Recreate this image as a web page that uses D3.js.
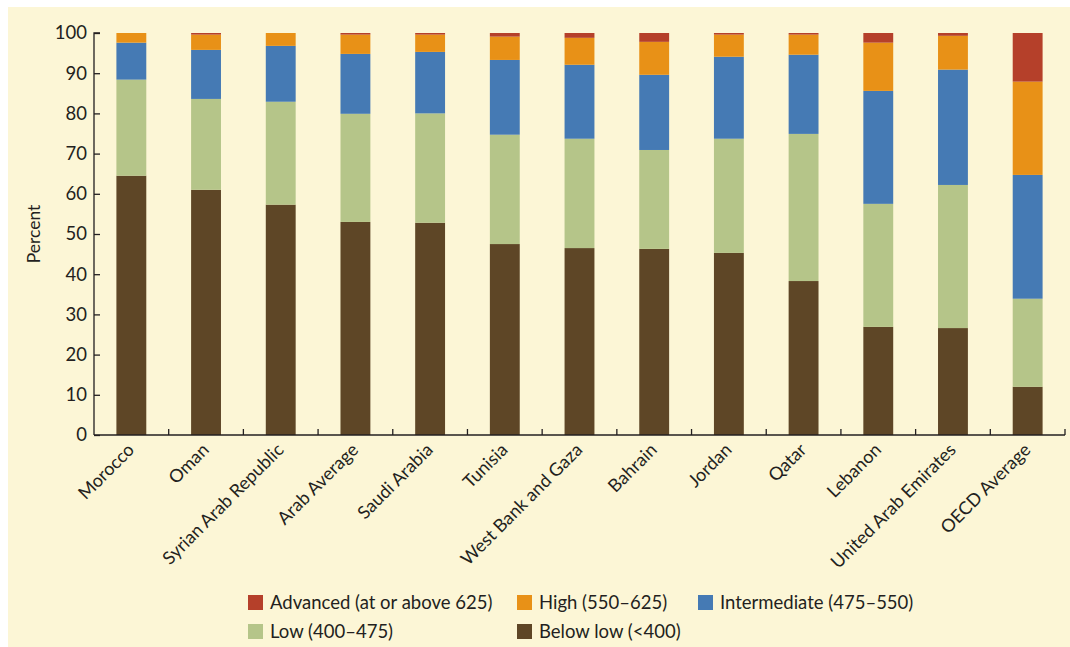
<!DOCTYPE html>
<html><head><meta charset="utf-8">
<script src="https://cdn.jsdelivr.net/npm/d3@7"></script>
<style>body{margin:0;background:#fff}svg{display:block}text{font-family:Lato,"Open Sans",sans-serif;fill:#231f20}</style>
</head><body><svg id="c" width="1070" height="647"></svg>
<script>
const categories = ["Morocco","Oman","Syrian Arab Republic","Arab Average","Saudi Arabia","Tunisia","West Bank and Gaza","Bahrain","Jordan","Qatar","Lebanon","United Arab Emirates","OECD Average"];
const belowLow     = [64.5,61.0,57.3,53.0,52.8,47.5,46.5,46.3,45.3,38.3,26.9,26.6,12.0];
const low          = [23.9,22.6,25.6,26.9,27.2,27.2,27.2,24.6,28.4,36.6,30.6,35.6,21.9];
const intermediate = [9.2,12.2,13.9,14.9,15.3,18.6,18.4,18.7,20.4,19.7,28.1,28.7,30.8];
const high         = [2.4,3.8,3.2,4.8,4.3,5.8,6.7,8.2,5.5,5.0,12.0,8.4,23.2];
const advanced     = [0,0.4,0,0.4,0.4,0.9,1.2,2.2,0.4,0.4,2.4,0.7,12.1];
const seriesNames = ["Below low (<400)","Low (400–475)","Intermediate (475–550)","High (550–625)","Advanced (at or above 625)"];
const seriesColors = ["#5e4626","#b5c589","#457ab4","#e89117","#b5402a"];
const yTicks = [0,10,20,30,40,50,60,70,80,90,100];

const svg = d3.select("#c");
svg.append("rect").attr("x",8).attr("y",7).attr("width",1062).attr("height",640).attr("fill","#fcf6d6");

const x0 = 94, x1 = 1065, yTop = 33, yBot = 435;
const x = d3.scaleBand().domain(categories).range([x0,x1]).paddingInner(0.6).paddingOuter(0.3);
const y = d3.scaleLinear().domain([0,100]).range([yBot,yTop]);

const rows = categories.map((c,i)=>({cat:c, s0:belowLow[i], s1:low[i], s2:intermediate[i], s3:high[i], s4:advanced[i]}));
const stack = d3.stack().keys(["s0","s1","s2","s3","s4"])(rows);

const g = svg.append("g");
g.selectAll("g.layer").data(stack).join("g").attr("fill",(d,i)=>seriesColors[i])
 .selectAll("rect").data(d=>d).join("rect")
 .attr("x",d=>x(d.data.cat)).attr("width",x.bandwidth())
 .attr("y",d=>y(d[1])).attr("height",d=>Math.max(0,y(d[0])-y(d[1])));

// y axis
const ya = svg.append("g").attr("transform",`translate(${x0},0)`)
 .call(d3.axisRight(y).tickValues(yTicks).tickSize(6).tickFormat(d3.format("d")));
ya.select(".domain").attr("stroke","#231f20").attr("stroke-width",1.3).attr("d",`M6,${yTop}H0V${yBot}`);
ya.selectAll(".tick line").attr("stroke","#231f20").attr("stroke-width",1.3);
ya.selectAll(".tick text").attr("x",-7).attr("text-anchor","end").attr("font-size",18.5).attr("fill","#231f20");

// x axis
const xa = svg.append("g").attr("transform",`translate(0,${yBot})`);
xa.append("path").attr("d",`M${x0},0H${x1}`).attr("stroke","#231f20").attr("stroke-width",1.5);
const tickPos = d3.range(1,categories.length+1).map(i=>x0+(x1-x0)*i/categories.length);
xa.selectAll("line.t").data(tickPos).join("line").attr("x1",d=>d).attr("x2",d=>d).attr("y1",0).attr("y2",-6).attr("stroke","#231f20").attr("stroke-width",1.3);
xa.selectAll("text").data(categories).join("text")
 .attr("transform",d=>`translate(${x(d)+x.bandwidth()/2+4},16) rotate(-45)`)
 .attr("text-anchor","end").attr("font-size",18).text(d=>d);

svg.append("text").attr("transform","translate(40,234) rotate(-90)").attr("text-anchor","middle").attr("font-size",17.5).text("Percent");

// legend
const legendOrder = [4,3,2,1,0];
const legendPos = [[248,603],[517,603],[698,603],[248,632],[517,632]];
const lg = svg.append("g");
legendOrder.forEach((si,k)=>{
  const [lx,ly]=legendPos[k];
  lg.append("rect").attr("x",lx).attr("y",ly-8).attr("width",15).attr("height",15).attr("fill",seriesColors[si]);
  lg.append("text").attr("x",lx+22).attr("y",ly).attr("dy","0.35em").attr("font-size",18.5).text(seriesNames[si]);
});
</script></body></html>
